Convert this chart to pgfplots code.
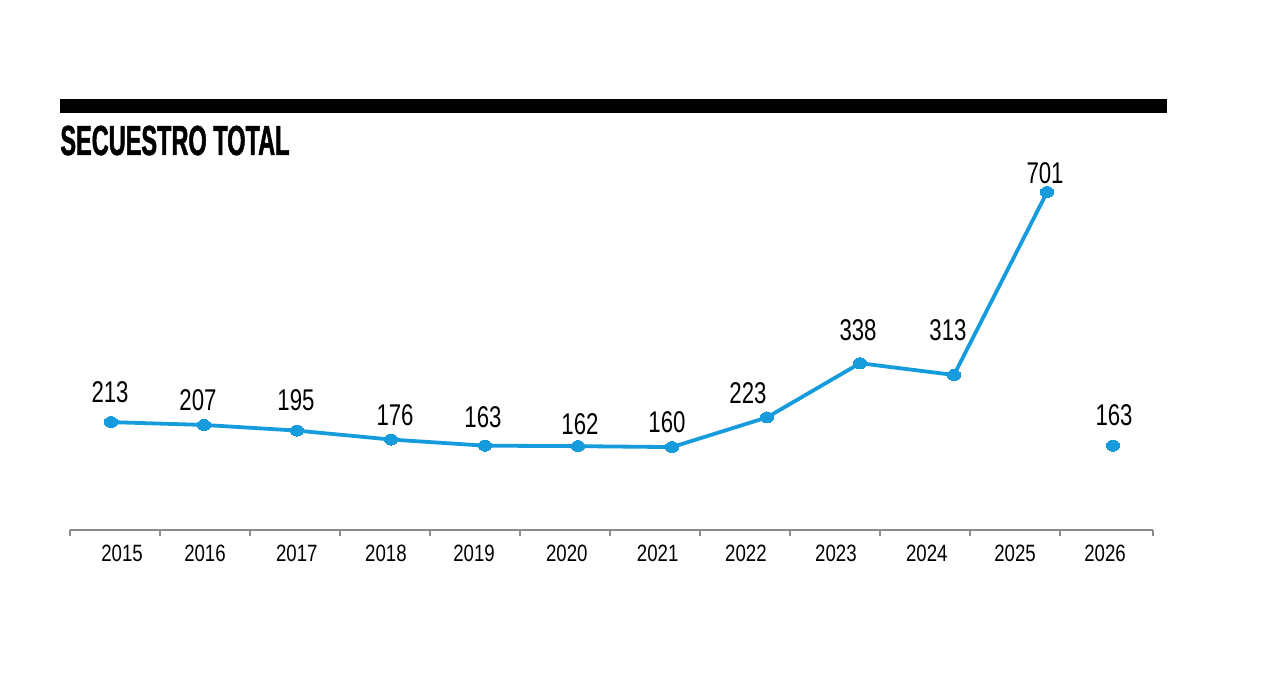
\documentclass[border=0pt]{standalone}
\usepackage{fontspec}
\setmainfont{Liberation Sans}
\newfontfamily\titlefont[FakeStretch=0.56,FakeBold=1.2]{Liberation Sans}
\newfontfamily\labfont[FakeStretch=0.74]{Liberation Sans}
\newfontfamily\tickfont[FakeStretch=0.79]{Liberation Sans}
\usepackage{pgfplots}
\usepackage{pgfplotstable}
\pgfplotsset{compat=1.18}
\definecolor{lineblue}{RGB}{22,155,221}
\definecolor{axisgray}{RGB}{140,140,140}

\pgfplotstableread{
x      y    dx    dy
-0.044 213  -0.5  10
0.989  207  -3    7
2.022  195  -0.5  10
3.067  176   2    7
4.111  163  -1    9
5.144  162   1    6
6.189  160  -2.5  7.5
7.244  223  -9.5  7
8.278  338  -1    11.5
9.322  313  -3    17
10.356 701  -1    4.5
}\mainseries

\pgfplotstableread{
x      y    dx    dy
11.089 163  0.5   10
}\lastpoint

\begin{document}
\begin{tikzpicture}
\path (0,0) rectangle (640pt,345pt);
\fill[black] (30pt,295.5pt) rectangle (583.5pt,288.5pt);
\node[anchor=base west, inner sep=0pt, font=\titlefont\bfseries\fontsize{21}{21}\selectfont] at (30pt,267.5pt) {SECUESTRO TOTAL};
\begin{axis}[
  at={(35pt,80pt)}, anchor=south west,
  scale only axis, width=541.5pt, height=215pt,
  xmin=-0.5, xmax=11.5333, ymin=-15.9, ymax=896.5,
  clip=false,
  axis x line=bottom, axis y line=none,
  axis line style={-, axisgray, line width=0.8pt},
  xtick={0.078,1,2.02,3.01,3.99,5.02,6.03,7.01,8.01,9.02,10,11},
  xticklabels={2015,2016,2017,2018,2019,2020,2021,2022,2023,2024,2025,2026},
  minor xtick={-0.5,0.5,1.5,2.5,3.5,4.5,5.5,6.5,7.5,8.5,9.5,10.5,11.5333},
  major tick length=0pt, minor tick length=3pt,
  tick align=outside,
  every minor tick/.append style={axisgray, line width=0.8pt},
  xticklabel style={anchor=base, yshift=-16pt, inner sep=0pt, text=black,
    font=\tickfont\fontsize{11.8}{11.8}\selectfont},
  nodes near coords,
  point meta=explicit symbolic,
  visualization depends on={\thisrow{dx}\as\ldx},
  visualization depends on={\thisrow{dy}\as\ldy},
  nodes near coords style={anchor=base, inner sep=0pt, text=black,
    xshift=\ldx pt, yshift=\ldy pt,
    font=\labfont\fontsize{15}{15}\selectfont},
]
\addplot[color=lineblue, line width=1.9pt, mark=*, mark size=2.75pt,
  mark options={xscale=1.2, fill=lineblue, draw=lineblue, line width=0pt}]
  table[x=x, y=y, meta=y] {\mainseries};
\addplot[color=lineblue, only marks, mark=*, mark size=2.75pt,
  mark options={xscale=1.2, fill=lineblue, draw=lineblue, line width=0pt}]
  table[x=x, y=y, meta=y] {\lastpoint};
\end{axis}
\end{tikzpicture}
\end{document}
